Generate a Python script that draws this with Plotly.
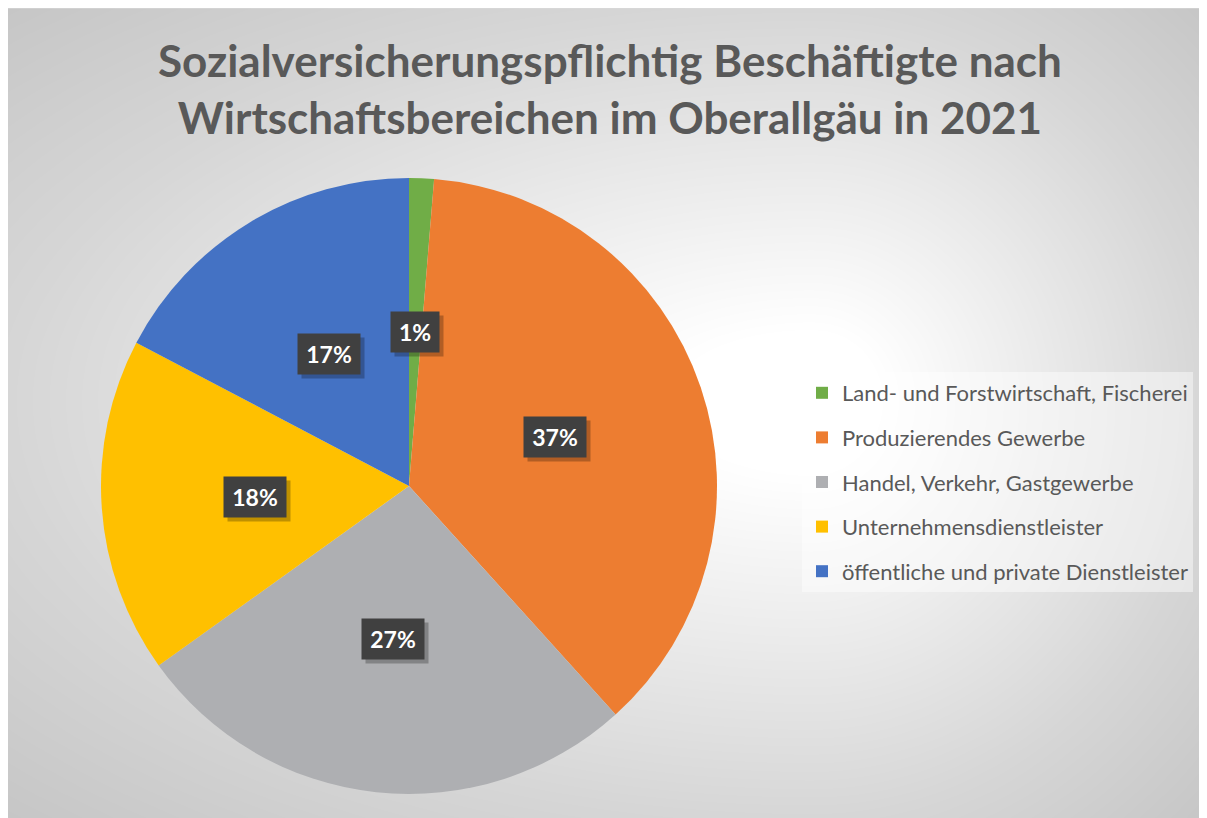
import numpy as np
import plotly.graph_objects as go

# ---- data ----
categories = [
    "Land- und Forstwirtschaft, Fischerei",
    "Produzierendes Gewerbe",
    "Handel, Verkehr, Gastgewerbe",
    "Unternehmensdienstleister",
    "öffentliche und private Dienstleister",
]
shares = [1.3, 37.0, 26.8, 17.6, 17.3]
colors = ["#70AD47", "#ED7D31", "#AEAFB2", "#FFC000", "#4472C4"]
title_lines = ["Sozialversicherungspflichtig Beschäftigte nach",
               "Wirtschaftsbereichen im Oberallgäu in 2021"]

# figure fills the window after the 8px page margin
W, H = 1199, 810
OFF = 8  # page margin offset (reference pixel -> figure pixel)
FONT = "Lato"

# ---- background radial gradient (decoration) ----
gx = np.linspace(0, W, 80)
gy = np.linspace(0, H, 60)
GX, GY = np.meshgrid(gx, gy)
c_x, c_y = 812.0 - OFF, 400.0 - OFF
nx = np.where(GX < c_x, (c_x - GX) / c_x, (GX - c_x) / (W - c_x))
ny = np.where(GY < c_y, (c_y - GY) / c_y, (GY - c_y) / (H - c_y))
T = np.sqrt(nx ** 2 + ny ** 2)

fig = go.Figure()
fig.add_trace(go.Heatmap(
    x=gx, y=gy, z=T, zmin=0, zmax=1.414, zsmooth="best", showscale=False,
    hoverinfo="skip",
    colorscale=[[0, "#ffffff"], [0.12, "#ffffff"], [0.707, "#d6d6d6"], [1, "#c6c6c6"]],
    xaxis="x", yaxis="y",
))

# ---- pie ----
pcx, pcy, R = 409 - OFF, 486 - OFF, 308
dom_x = [(pcx - R) / W, (pcx + R) / W]
dom_y = [1 - (pcy + R) / H, 1 - (pcy - R) / H]
fig.add_trace(go.Pie(
    labels=categories, values=shares, sort=False, direction="clockwise",
    rotation=0, marker=dict(colors=colors, line=dict(width=0)),
    textinfo="none", hoverinfo="label+percent", showlegend=False,
    domain=dict(x=dom_x, y=dom_y),
))

# legend entries (dummy markers)
for name, col in zip(categories, colors):
    fig.add_trace(go.Scatter(
        x=[None], y=[None], mode="markers", name=name, legendgroup=name,
        marker=dict(symbol="square", size=11, color=col),
        xaxis="x", yaxis="y",
    ))

# ---- data labels ----
total = sum(shares)
cum = 0.0
annotations = []
for v in shares:
    mid = (cum + v / 2) / total * 2 * np.pi
    cum += v
    lx = (pcx + 0.5 * R * np.sin(mid)) / W
    ly = 1 - (pcy - 0.5 * R * np.cos(mid)) / H
    txt = f"{round(v / total * 100)}%"
    bw = 20 + 14 * len(txt)
    bh = 40
    annotations.append(dict(
        x=lx, y=ly, xref="paper", yref="paper", text="", showarrow=False,
        xanchor="center", yanchor="middle",
        width=bw, height=bh, bgcolor="rgba(0,0,0,0.25)", borderpad=0,
        xshift=4, yshift=-4,
    ))
    annotations.append(dict(
        x=lx, y=ly, xref="paper", yref="paper", text=f"<b>{txt}</b>",
        xanchor="center", yanchor="middle",
        showarrow=False, width=bw, height=bh, bgcolor="#404040", borderpad=0,
        font=dict(family=FONT, size=23, color="white"),
    ))

annotations.append(dict(
    x=(610 - OFF) / W, y=1 - (88 - OFF) / H, xref="paper", yref="paper",
    text="<b>" + "<br>".join(title_lines) + "</b>", showarrow=False,
    font=dict(family=FONT, size=44, color="#595959"),
    xanchor="center", yanchor="middle",
))

fig.update_layout(
    width=W, height=H, margin=dict(l=0, r=0, t=0, b=0),
    paper_bgcolor="white", plot_bgcolor="rgba(0,0,0,0)",
    xaxis=dict(domain=[0, 1], range=[0, W], visible=False, fixedrange=True),
    yaxis=dict(domain=[0, 1], range=[H, 0], visible=False, fixedrange=True),
    showlegend=True,
    legend=dict(
        x=(802 - OFF) / W, y=1 - (372 - OFF) / H, xanchor="left", yanchor="top",
        bgcolor="rgba(255,255,255,0.45)", tracegroupgap=13,
        font=dict(family=FONT, size=22, color="#595959"),
        itemsizing="constant",
    ),
    annotations=annotations,
    shapes=[dict(type="line", xref="paper", yref="paper", x0=0, x1=1,
                 y0=1, y1=1, line=dict(color="#d9d9d9", width=1))],
)

fig.write_html(
    "out.html",
    post_script="document.documentElement.style.overflow='hidden';"
                "document.body.style.overflow='hidden';",
)
